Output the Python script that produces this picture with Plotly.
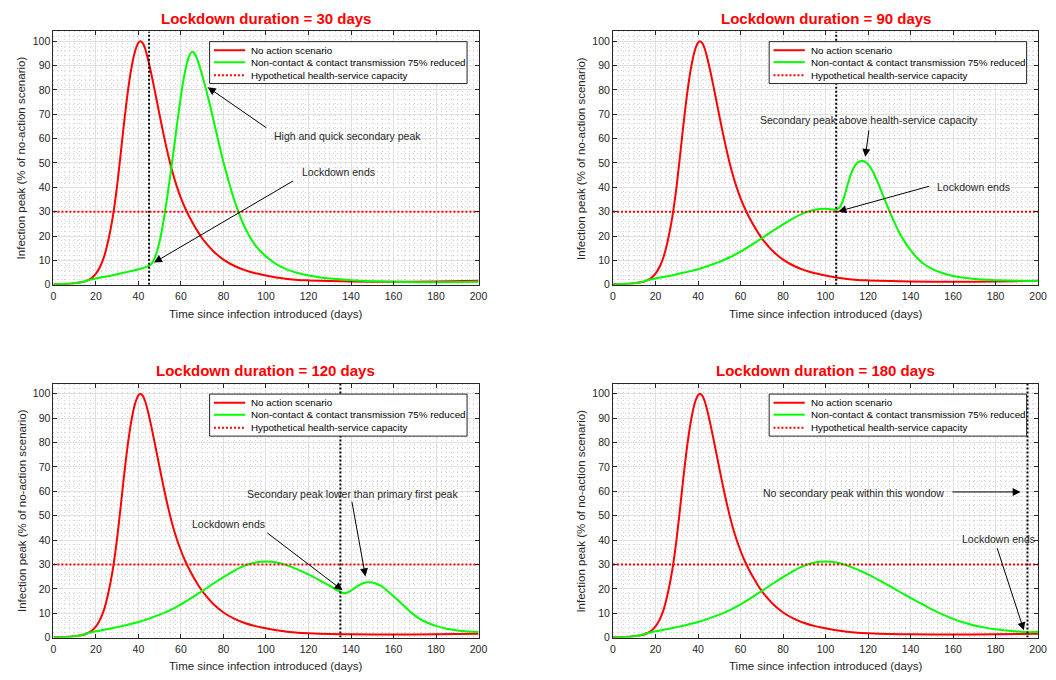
import plotly.graph_objects as go

# ---------------- data ----------------
red_days = [0, 5, 10, 13, 15, 16, 17, 18, 19, 20, 21, 22, 23, 24, 25, 26, 27, 28, 29, 30, 31, 32, 33,
            34, 35, 36, 37, 38, 39, 40, 41, 42, 43, 44, 45, 46, 48, 50, 52, 54, 56, 58, 60, 62, 64,
            66, 68, 70, 72, 75, 80, 85, 90, 95, 100, 105, 110, 115, 120, 130, 140, 160, 180, 200]
red_vals = [0.2, 0.3, 0.6, 1.0, 1.4, 1.8, 2.25, 2.8, 3.6, 4.6, 5.9, 7.5, 9.5, 12.0, 15.2, 19.0, 23.3,
            28.3, 34.2, 41.0, 48.6, 56.6, 64.6, 72.2, 79.2, 85.3, 90.4, 94.5, 97.5, 99.4, 100.0, 99.2,
            97.3, 94.3, 90.7, 86.8, 78.3, 69.5, 61.0, 53.2, 46.3, 40.5, 35.6, 31.4, 27.8, 24.6, 21.7,
            19.1, 16.9, 14.0, 10.3, 7.8, 6.0, 4.7, 3.8, 3.0, 2.4, 2.0, 1.8, 1.5, 1.35, 1.25, 1.35, 1.6]

# green curve while the lockdown stays in place
lock_days = [0, 5, 10, 13, 15, 17, 20, 25, 30, 35, 40, 45, 50, 55, 60, 65, 70, 75, 80, 85, 90, 95, 100,
             105, 110, 115, 120, 125, 130, 135, 140, 145, 150, 155, 160, 165, 170, 175, 180, 185, 190,
             195, 200]
lock_vals = [0.2, 0.3, 0.6, 1.0, 1.5, 2.0, 2.6, 3.4, 4.3, 5.3, 6.4, 7.8, 9.4, 11.3, 13.6, 16.3, 19.1,
             22.0, 24.8, 27.4, 29.5, 30.8, 31.2, 30.8, 29.6, 27.9, 25.9, 23.6, 21.2, 18.7, 16.3, 13.9,
             11.6, 9.5, 7.7, 6.2, 5.0, 4.1, 3.4, 2.9, 2.5, 2.2, 2.3]

# green curve after the lockdown is lifted
post30_days = [46, 47, 48, 49, 50, 51, 52, 53, 54, 55, 56, 57, 58, 59, 60, 61, 62, 63, 64, 65, 66, 67,
               68, 70, 72, 74, 76, 78, 80, 82, 84, 86, 88, 90, 92, 95, 100, 105, 110, 115, 120, 125,
               130, 140, 150, 160, 180, 200]
post30_vals = [8.5, 9.8, 11.8, 14.5, 18.0, 22.2, 27.2, 32.8, 38.8, 45.0, 51.4, 58.0, 64.8, 71.4, 77.6,
               83.2, 87.9, 91.6, 94.2, 95.5, 95.4, 94.0, 91.7, 86.0, 79.5, 72.5, 65.0, 57.5, 50.3,
               43.8, 37.8, 32.4, 27.7, 23.7, 20.3, 16.2, 11.6, 8.4, 6.2, 4.8, 3.8, 3.1, 2.6, 1.9,
               1.45, 1.2, 1.0, 1.2]
post90_days = [106, 107, 108, 109, 110, 111, 112, 113, 114, 115, 116, 117, 118, 119, 120, 122, 124, 126,
               128, 130, 132, 134, 136, 138, 140, 143, 146, 150, 155, 160, 170, 180, 190, 200]
post90_vals = [31.3, 32.3, 34.1, 36.8, 39.9, 42.9, 45.5, 47.6, 49.1, 50.1, 50.6, 50.8, 50.7, 50.2, 49.4,
               46.9, 43.2, 39.0, 34.6, 30.3, 26.3, 22.6, 19.4, 16.6, 14.2, 11.1, 8.7, 6.5, 4.8, 3.6,
               2.4, 1.9, 1.6, 1.5]
post120_days = [136, 137, 138, 140, 142, 144, 146, 148, 150, 152, 154, 156, 158, 160, 162, 164, 166, 168,
                170, 172, 175, 178, 180, 185, 190, 195, 200]
post120_vals = [18.3, 18.2, 18.4, 19.3, 20.5, 21.6, 22.4, 22.7, 22.6, 22.1, 21.3, 20.0, 18.5, 17.0, 15.4,
                13.8, 12.1, 10.5, 9.1, 7.9, 6.5, 5.4, 4.8, 3.6, 2.9, 2.5, 2.3]
post180_days = [200]
post180_vals = [2.4]

durations = [30, 90, 120, 180]
lockdown_end = [45, 105, 135, 195]
post_days = [post30_days, post90_days, post120_days, post180_days]
post_vals = [post30_vals, post90_vals, post120_vals, post180_vals]
capacity = 30

x_ticks = [0, 20, 40, 60, 80, 100, 120, 140, 160, 180, 200]
y_ticks = [0, 10, 20, 30, 40, 50, 60, 70, 80, 90, 100]
x_range = [0, 200]
y_range = [0, 104]

legend_names = ["No action scenario",
                "Non-contact & contact transmission 75% reduced",
                "Hypothetical health-service capacity"]
x_title = "Time since infection introduced (days)"
y_title = "Infection peak (% of no-action scenario)"

# annotations per panel: (text, text_x, text_y, anchor, tail_x, tail_y, head_x, head_y)
notes = [
    [("High and quick secondary peak", 102.8, 61.2, "left", 100.9, 64.0, 72.6, 81.1),
     ("Lockdown ends", 115.8, 46.1, "left", 113.5, 43.0, 47.3, 9.1)],
    [("Secondary peak above health-service capacity", 120.5, 67.7, "center", 120.5, 64.0, 118.7, 52.5),
     ("Lockdown ends", 151.5, 40.3, "left", 149.4, 40.6, 106.0, 30.1)],
    [("Secondary peak lower than primary first peak", 140.6, 59.0, "center", 140.3, 56.3, 146.8, 25.1),
     ("Lockdown ends", 64.2, 46.5, "left", 99.9, 43.4, 136.0, 19.4)],
    [("No secondary peak within this wondow", 69.6, 59.4, "left", 159.0, 59.7, 191.8, 59.7),
     ("Lockdown ends", 163.4, 40.3, "left", 180.5, 37.3, 193.3, 3.0)],
]

# ---------------- layout geometry (paper fractions) ----------------
W, H = 1056, 680
col_x = [(51 / W, 481 / W), (617 / W, 1047 / W)]
row_y = [(1 - 287.3 / H, 1 - 31.7 / H), (1 - 643.3 / H, 1 - 387.3 / H)]
panel_pos = [(0, 0), (1, 0), (0, 1), (1, 1)]

# legend box geometry in axis-domain fractions
LEG_X0, LEG_X1, LEG_Y0, LEG_Y1 = 0.3674, 0.9730, 0.7942, 0.9597
LEG_ROWS = [0.9257, 0.8787, 0.8267]
LEG_LX0, LEG_LX1, LEG_TX = 0.3775, 0.4512, 0.4600

TXT = "#262626"
FONT = "Liberation Sans, Arial, Helvetica, sans-serif"
RED = "#ff0000"
GREEN = "#00ff00"
legend_styles = [dict(color=RED, width=2), dict(color=GREEN, width=2),
                 dict(color=RED, width=2, dash="2px,2px")]

fig = go.Figure()
annotations = []
shapes = []
layout_axes = {}

for i in range(4):
    c, r = panel_pos[i]
    sfx = "" if i == 0 else str(i + 1)
    xa, ya = "x" + sfx, "y" + sfx
    end = lockdown_end[i]

    gd = [d for d in lock_days if d <= end] + post_days[i]
    gv = [v for d, v in zip(lock_days, lock_vals) if d <= end] + post_vals[i]

    fig.add_trace(go.Scatter(x=red_days, y=red_vals, mode="lines", name=legend_names[0],
                             line=dict(color=RED, width=2, shape="spline", smoothing=0.6),
                             xaxis=xa, yaxis=ya, showlegend=False))
    fig.add_trace(go.Scatter(x=gd, y=gv, mode="lines", name=legend_names[1],
                             line=dict(color=GREEN, width=2, shape="spline", smoothing=0.6),
                             xaxis=xa, yaxis=ya, showlegend=False))
    fig.add_trace(go.Scatter(x=x_range, y=[capacity, capacity], mode="lines", name=legend_names[2],
                             line=dict(color=RED, width=2, dash="2px,2px"),
                             xaxis=xa, yaxis=ya, showlegend=False))
    fig.add_trace(go.Scatter(x=[end, end], y=y_range, mode="lines", showlegend=False,
                             line=dict(color="black", width=2, dash="2px,2px"),
                             xaxis=xa, yaxis=ya, hoverinfo="skip"))

    common = dict(ticks="inside", ticklen=4, tickcolor=TXT, tickwidth=1,
                  showline=True, linecolor=TXT, linewidth=1, mirror="allticks",
                  showgrid=True, gridcolor="#e0e0e0", gridwidth=1, zeroline=False,
                  tickfont=dict(size=10.5, color=TXT, family=FONT), fixedrange=True)
    layout_axes["xaxis" + sfx] = dict(common, domain=list(col_x[c]), range=x_range,
                                      tickvals=x_ticks, anchor=ya, ticklabelstandoff=2,
                                      minor=dict(dtick=2.5, showgrid=True, gridcolor="#d4d4d4",
                                                 griddash="1px,3px", gridwidth=1))
    layout_axes["yaxis" + sfx] = dict(common, domain=list(row_y[r]), range=y_range,
                                      tickvals=y_ticks, anchor=xa,
                                      minor=dict(dtick=2, showgrid=True, gridcolor="#d4d4d4",
                                                 griddash="1px,3px", gridwidth=1))

    x0, x1 = col_x[c]
    y0, y1 = row_y[r]
    xm = (x0 + x1) / 2
    # title
    annotations.append(dict(text="<b>Lockdown duration = %d days</b>" % durations[i],
                            xref="paper", yref="paper", x=xm, y=y1 + 13.3 / H,
                            xanchor="center", yanchor="middle", showarrow=False,
                            font=dict(size=15, color=RED, family=FONT)))
    # axis titles
    annotations.append(dict(text=x_title, xref="paper", yref="paper", x=xm, y=y0 - 29 / H,
                            xanchor="center", yanchor="middle", showarrow=False,
                            font=dict(size=11.5, color=TXT, family=FONT)))
    annotations.append(dict(text=y_title, xref="paper", yref="paper", x=x0 - 32.5 / W,
                            y=(y0 + y1) / 2, xanchor="center", yanchor="middle", showarrow=False,
                            textangle=-90, font=dict(size=11.5, color=TXT, family=FONT)))
    # notes with arrows
    for (t, tx, ty, anc, ax_, ay_, hx, hy) in notes[i]:
        annotations.append(dict(text=t, xref=xa, yref=ya, x=tx, y=ty, xanchor=anc,
                                yanchor="middle", showarrow=False,
                                font=dict(size=10.5, color=TXT, family=FONT)))
        annotations.append(dict(text="", xref=xa, yref=ya, x=hx, y=hy, axref=xa, ayref=ya,
                                ax=ax_, ay=ay_, showarrow=True, arrowhead=2, arrowsize=1.6,
                                arrowwidth=1, arrowcolor="black", standoff=0, startstandoff=0))

    # legend box (drawn over the curves, like the reference's boxed legend)
    dx, dy = xa + " domain", ya + " domain"
    shapes.append(dict(type="rect", xref=dx, yref=dy, x0=LEG_X0, x1=LEG_X1, y0=LEG_Y0, y1=LEG_Y1,
                       fillcolor="white", line=dict(color=TXT, width=1), layer="above"))
    for k in range(3):
        shapes.append(dict(type="line", xref=dx, yref=dy, x0=LEG_LX0, x1=LEG_LX1,
                           y0=LEG_ROWS[k], y1=LEG_ROWS[k], line=legend_styles[k], layer="above"))
        annotations.append(dict(text=legend_names[k], xref=dx, yref=dy, x=LEG_TX, y=LEG_ROWS[k],
                                xanchor="left", yanchor="middle", showarrow=False,
                                font=dict(size=9.8, color="black", family=FONT)))

fig.update_layout(width=W, height=H, margin=dict(l=0, r=0, t=0, b=0),
                  paper_bgcolor="white", plot_bgcolor="white", showlegend=False,
                  font=dict(family=FONT, color=TXT), annotations=annotations, shapes=shapes,
                  **layout_axes)

fig.write_html("out.html", config={"displayModeBar": False},
               post_script="document.body.style.margin='0';"
                           "document.body.style.overflow='hidden';")
